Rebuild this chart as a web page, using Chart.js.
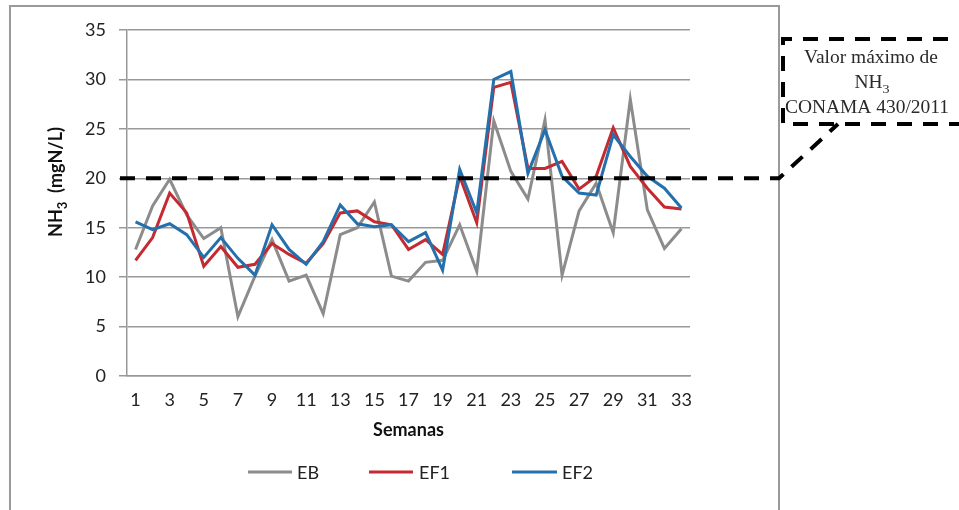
<!DOCTYPE html>
<html>
<head>
<meta charset="utf-8">
<script src="https://cdn.jsdelivr.net/npm/chart.js@4.4.1/dist/chart.umd.min.js"></script>
<style>
  body { margin: 0; background: #fff; }
  canvas { display: block; }
</style>
</head>
<body>
<canvas id="grafico" width="959" height="510"></canvas>
<script>
const semanas = Array.from({ length: 33 }, (_, i) => String(i + 1));

const eb  = [12.8, 17.2, 19.9, 16.3, 13.9, 15.0, 6.0, 10.1, 13.8, 9.6, 10.2, 6.3, 14.3, 15.0, 17.6, 10.1, 9.6,
             11.5, 11.7, 15.3, 10.6, 25.8, 20.7, 17.9, 25.9, 10.2, 16.7, 19.5, 14.5, 28.0, 16.8, 12.9, 14.9];
const ef1 = [11.7, 14.0, 18.5, 16.5, 11.1, 13.1, 11.0, 11.3, 13.4, 12.3, 11.4, 13.4, 16.5, 16.7, 15.6, 15.3, 12.8,
             13.8, 12.3, 20.2, 15.5, 29.2, 29.7, 21.0, 21.0, 21.7, 18.9, 20.2, 25.1, 21.2, 19.0, 17.1, 16.9];
const ef2 = [15.6, 14.8, 15.4, 14.3, 12.0, 14.0, 11.9, 10.2, 15.3, 12.8, 11.3, 13.6, 17.3, 15.4, 15.1, 15.3, 13.6,
             14.5, 10.7, 20.9, 16.5, 30.0, 30.8, 20.5, 24.9, 20.2, 18.5, 18.3, 24.4, 22.2, 20.2, 19.0, 17.0];

const limiteConama = 20;
const yTicks = [0, 5, 10, 15, 20, 25, 30, 35];

const cinza = '#8c8c8c', vermelho = '#c42a2f', azul = '#2470ad';
const fonte = 'Lato, "Open Sans", sans-serif';

// texto com subscrito (NH3) desenhado em partes
function textoSub(ctx, partes, x, y, tam, peso, familia) {
  let cx = x;
  partes.forEach(p => {
    const t = p.sub ? Math.round(tam * 0.7) : tam;
    ctx.font = `${peso} ${t}px ${familia}`;
    ctx.fillText(p.t, cx, y + (p.sub ? tam * 0.28 : 0));
    cx += ctx.measureText(p.t).width;
  });
  return cx - x;
}
function larguraSub(ctx, partes, tam, peso, familia) {
  let w = 0;
  partes.forEach(p => {
    const t = p.sub ? Math.round(tam * 0.7) : tam;
    ctx.font = `${peso} ${t}px ${familia}`;
    w += ctx.measureText(p.t).width;
  });
  return w;
}

const extras = {
  id: 'extras',
  beforeDraw(chart) {
    const ctx = chart.ctx;
    ctx.save();
    ctx.fillStyle = '#fff';
    ctx.fillRect(0, 0, chart.width, chart.height);
    // moldura do grafico
    ctx.strokeStyle = '#9a9a9a';
    ctx.lineWidth = 2;
    ctx.beginPath();
    ctx.moveTo(10, 520); ctx.lineTo(10, 6); ctx.lineTo(779, 6); ctx.lineTo(779, 520);
    ctx.stroke();
    ctx.restore();
  },
  afterDatasetsDraw(chart) {
    const ctx = chart.ctx;
    const y = chart.scales.y.getPixelForValue(limiteConama);
    ctx.save();
    ctx.strokeStyle = '#000';
    ctx.lineWidth = 4;
    ctx.setLineDash([15, 11]);
    ctx.beginPath();
    ctx.moveTo(120, y);
    ctx.lineTo(779, y);
    ctx.lineTo(838, 124);
    ctx.stroke();
    ctx.restore();
  },
  afterDraw(chart) {
    const ctx = chart.ctx;
    ctx.save();

    // titulo do eixo y
    ctx.fillStyle = '#111';
    ctx.translate(56, 182);
    ctx.rotate(-Math.PI / 2);
    ctx.textBaseline = 'alphabetic';
    ctx.textAlign = 'left';
    const tituloY = [{ t: 'NH' }, { t: '3', sub: true }, { t: '  (mgN/L)' }];
    const wy = larguraSub(ctx, tituloY, 18, 'bold', fonte);
    textoSub(ctx, tituloY, -wy / 2, 6, 18, 'bold', fonte);
    ctx.setTransform(1, 0, 0, 1, 0, 0);

    // legenda
    ctx.lineWidth = 3;
    ctx.font = `18px ${fonte}`;
    ctx.textBaseline = 'middle';
    ctx.fillStyle = '#222';
    const itens = [[248, 292, 297], [369, 413, 419], [512, 557, 562]];
    chart.data.datasets.forEach((ds, i) => {
      const [a, b, tx] = itens[i];
      ctx.strokeStyle = ds.borderColor;
      ctx.beginPath();
      ctx.moveTo(a, 472); ctx.lineTo(b, 472);
      ctx.stroke();
      ctx.fillText(ds.label, tx, 473);
    });

    // caixa da anotacao
    ctx.fillStyle = '#2a2a2a';
    ctx.textBaseline = 'alphabetic';
    const serif = '"Liberation Serif", "Times New Roman", serif';
    const linhaCentro = (partes, cx, by) => {
      ctx.save();
      ctx.translate(cx, by);
      ctx.scale(1.08, 1);
      const w = larguraSub(ctx, partes, 18, 'normal', serif);
      textoSub(ctx, partes, -w / 2, 0, 18, 'normal', serif);
      ctx.restore();
    };
    linhaCentro([{ t: 'Valor máximo de' }], 871, 63);
    linhaCentro([{ t: 'NH' }, { t: '3', sub: true }], 872, 88);
    linhaCentro([{ t: 'CONAMA 430/2011' }], 867, 113);

    ctx.strokeStyle = '#000';
    ctx.lineWidth = 4;
    ctx.setLineDash([15, 11]);
    ctx.beginPath();
    ctx.moveTo(1000, 39); ctx.lineTo(783, 39); ctx.lineTo(783, 124); ctx.lineTo(1000, 124);
    ctx.stroke();
    ctx.restore();
  }
};

const serie = (label, data, cor, ordem) => ({
  label, data,
  borderColor: cor, backgroundColor: cor,
  borderWidth: 3, pointRadius: 0, tension: 0, order: ordem
});

new Chart(document.getElementById('grafico').getContext('2d'), {
  type: 'line',
  data: {
    labels: semanas,
    datasets: [
      serie('EB', eb, cinza, 3),
      serie('EF1', ef1, vermelho, 2),
      serie('EF2', ef2, azul, 1)
    ]
  },
  options: {
    responsive: false,
    animation: false,
    layout: { padding: { left: 0, top: 30, right: 269, bottom: 64 } },
    plugins: { legend: { display: false }, tooltip: { enabled: false } },
    scales: {
      x: {
        offset: true,
        grid: { display: false, drawTicks: false },
        border: { display: true, color: '#999', width: 1.5 },
        ticks: {
          autoSkip: false, maxRotation: 0, padding: 13,
          color: '#222', font: { family: fonte, size: 18 },
          callback: (v, i) => (i % 2 === 0 ? semanas[i] : '')
        },
        title: {
          display: true, text: 'Semanas', color: '#111',
          font: { family: fonte, size: 18, weight: 'bold' },
          padding: { top: 4, bottom: 5 }
        },
        afterFit: s => { s.height = 70; }
      },
      y: {
        min: 0, max: 35,
        afterBuildTicks: s => { s.ticks = yTicks.map(v => ({ value: v })); },
        grid: { color: '#999', lineWidth: 1.5, tickLength: 8, tickColor: '#999' },
        border: { display: true, color: '#999', width: 1.5 },
        ticks: { padding: 13, color: '#222', font: { family: fonte, size: 18 } },
        afterFit: s => { s.width = 127; }
      }
    }
  },
  plugins: [extras]
});
</script>
</body>
</html>
